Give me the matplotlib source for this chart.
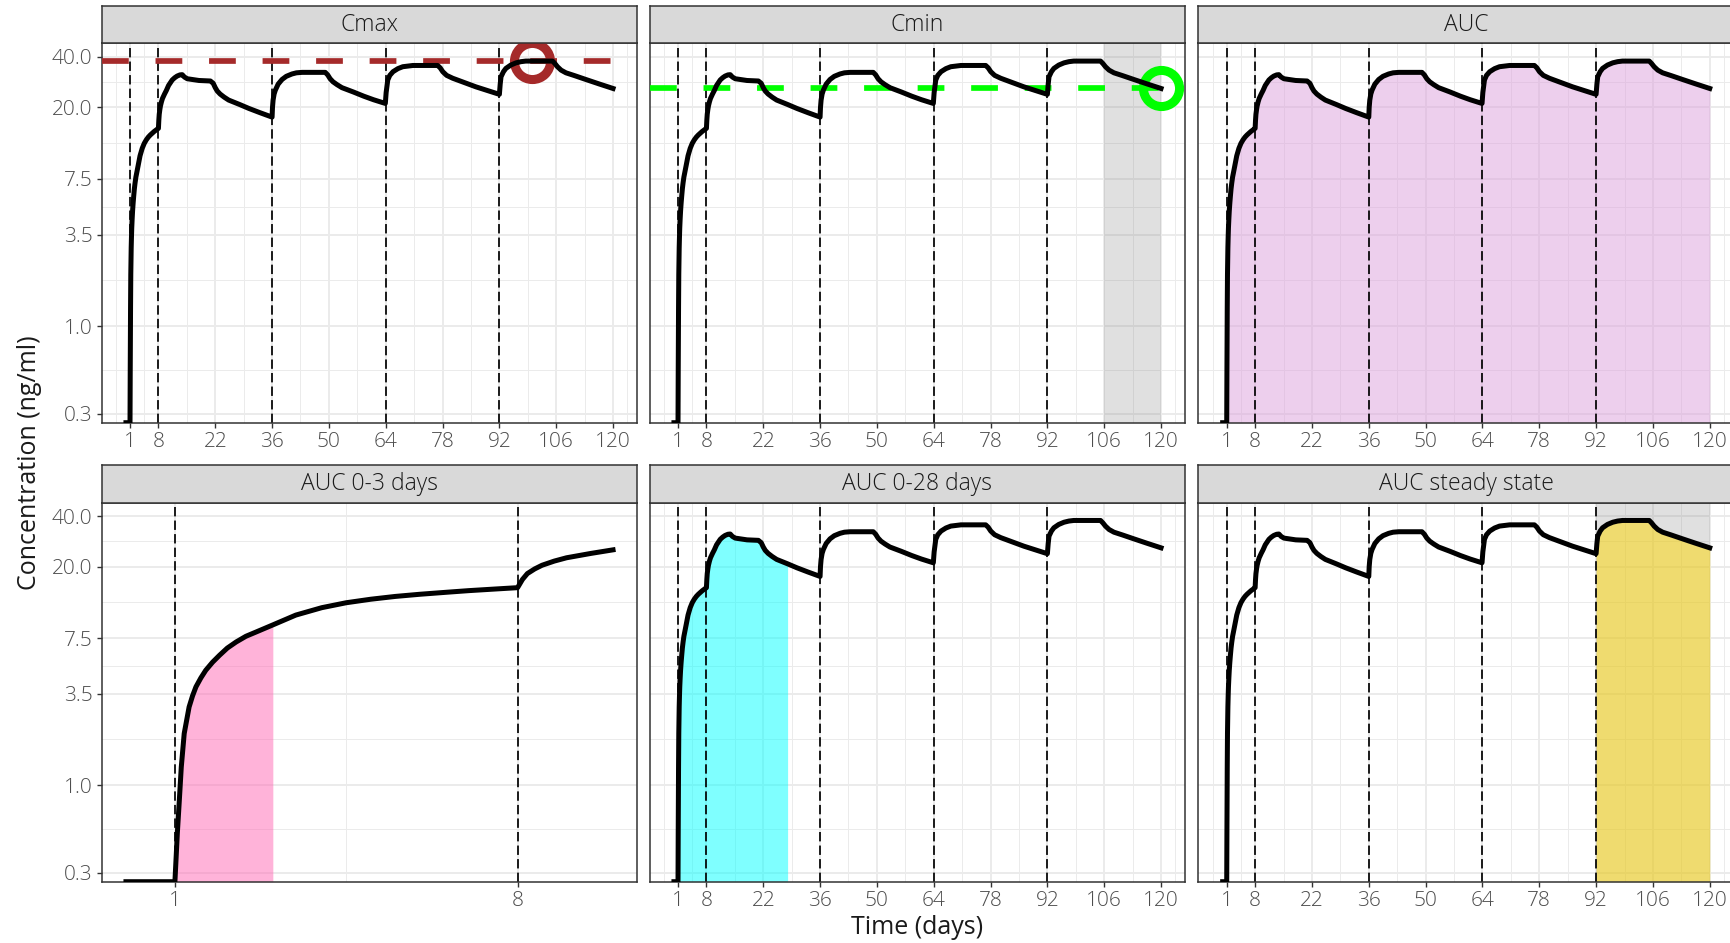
"""
Concentration-time profile faceted by PK metric: Cmax, Cmin and
several AUC windows, with dosing days marked as dashed lines.
"""
import matplotlib
matplotlib.use("Agg")
import matplotlib.pyplot as plt
import numpy as np
from matplotlib.ticker import FixedLocator, NullFormatter

plt.rcParams["font.family"] = ["Open Sans", "DejaVu Sans"]

# ── Data ──────────────────────────────────────────────────────────────────────
time_days = [0.0, 1.0, 1.05, 1.09, 1.13, 1.19, 1.29, 1.36, 1.43, 1.53, 1.63,
             1.77, 1.91, 2.07, 2.25, 2.45, 2.66, 3.0, 3.47, 4.0, 4.5, 5.0,
             5.5, 6.0, 6.57, 7.0, 7.5, 8.0, 8.1, 8.2, 8.35, 8.5, 8.75, 9.0,
             9.5, 9.95, 10.5, 11.4, 12.0, 12.6, 13.3, 13.86, 14.4, 15.1,
             18.0, 20.8, 21.5, 22.0, 22.5, 23.2, 24.2, 25.3, 28.0, 30.3,
             33.0, 36.0, 36.1, 36.25, 36.5, 36.8, 37.5, 38.45, 39.5, 40.9,
             42.0, 43.4, 49.1, 49.7, 50.3, 51.0, 52.0, 53.2, 56.0, 58.6,
             61.0, 63.9, 64.1, 64.5, 65.0, 65.8, 67.0, 68.2, 70.7, 76.8,
             77.4, 78.05, 79.0, 80.5, 86.2, 92.0, 92.2, 92.4, 93.0, 93.6,
             94.8, 96.1, 97.3, 98.5, 100.0, 105.1, 105.7, 106.3, 107.2,
             108.4, 110.5, 113.3, 116.5, 120.0]
conc_ngml = [0.0, 0.0, 0.52, 0.81, 1.28, 2.03, 2.92, 3.4, 3.85, 4.35, 4.83,
             5.4, 5.93, 6.55, 7.12, 7.7, 8.17, 9.0, 10.3, 11.4, 12.2, 12.8,
             13.3, 13.7, 14.1, 14.4, 14.7, 15.0, 16.8, 18.2, 19.4, 20.4, 21.6,
             22.6, 24.0, 25.2, 27.0, 29.1, 30.0, 30.7, 31.2, 31.3, 30.3, 29.6,
             28.9, 28.7, 27.8, 26.2, 25.0, 24.0, 23.0, 22.1, 20.8, 19.7,
             18.6, 17.5, 20.0, 22.1, 24.0, 25.3, 27.5, 29.3, 30.6, 31.6,
             32.1, 32.3, 32.3, 31.2, 29.6, 28.4, 27.3, 26.2, 24.7, 23.3,
             22.2, 21.1, 24.5, 29.1, 31.0, 32.6, 34.0, 34.9, 35.5, 35.5,
             34.4, 32.6, 31.0, 29.8, 26.5, 23.9, 27.5, 30.4, 32.6, 34.1,
             35.7, 36.8, 37.4, 37.7, 37.7, 37.7, 36.4, 34.9, 33.3,
             32.1, 30.9, 29.3, 27.6, 25.9]
dose_days = [1, 8, 36, 64, 92]

cmax_time, cmax_value = 100.0, 37.7
cmin_time, cmin_value = 120.0, 25.9

panels = ["Cmax", "Cmin", "AUC", "AUC 0-3 days", "AUC 0-28 days", "AUC steady state"]
auc_start = {"AUC": 0, "AUC 0-3 days": 0, "AUC 0-28 days": 0, "AUC steady state": 92}
auc_end = {"AUC": 120, "AUC 0-3 days": 3, "AUC 0-28 days": 28, "AUC steady state": 120}
auc_color = {"AUC": "#DDA0DD", "AUC 0-3 days": "#FF69B4",
             "AUC 0-28 days": "#00FFFF", "AUC steady state": "#FFD700"}
shade_start = {"Cmin": 106, "AUC steady state": 92}
shade_end = {"Cmin": 120, "AUC steady state": 120}

y_breaks = [0.3, 1.0, 3.5, 7.5, 20.0, 40.0]
y_labels = ["0.3", "1.0", "3.5", "7.5", "20.0", "40.0"]
x_breaks = [1, 8, 22, 36, 50, 64, 78, 92, 106, 120]
early_window = 10   # the 0-3 day facet only shows the first 10 days

t = np.array(time_days)
c = np.array(conc_ngml)

# ── Layout (pixels) ───────────────────────────────────────────────────────────
W, H = 1731, 943
Y_LIM = (0.266, 48.1)
col_left = [101.6, 649.6, 1198.3]
col_w = 535.8
rows = [(43.3, 422.7, 6.3), (502.7, 881.7, 465.3)]   # panel top, panel bottom, strip top

GRID = "#EBEBEB"
DARK = "#333333"


def minor_breaks(b, lo, hi):
    """Midpoints between breaks, extended one step each side (ggplot style)."""
    b = list(b)
    step = b[1] - b[0]
    b = [b[0] - step] + b + [b[-1] + step]
    mids = [(a + z) / 2 for a, z in zip(b[:-1], b[1:])]
    return [m for m in mids if lo < m < hi]


fig = plt.figure(figsize=(W / 100, H / 100), dpi=100)

for i, name in enumerate(panels):
    r, col = divmod(i, 3)
    top, bot, strip_top = rows[r]
    ax = fig.add_axes([col_left[col] / W, (H - bot) / H, col_w / W, (bot - top) / H])

    if name == "AUC 0-3 days":
        keep = t <= early_window
        xb = [b for b in x_breaks if b <= early_window]
    else:
        keep = np.ones_like(t, dtype=bool)
        xb = x_breaks
    tt, cc = t[keep], c[keep]
    pad = 0.05 * (tt.max() - tt.min())
    x_lim = (tt.min() - pad, tt.max() + pad)
    # zero concentrations sit on the lower panel edge on a log axis
    cc_plot = np.where(cc > 0, cc, Y_LIM[0])

    ax.set_yscale("log")
    ax.set_xlim(*x_lim)
    ax.set_ylim(*Y_LIM)

    ax.xaxis.set_major_locator(FixedLocator(xb))
    ax.xaxis.set_minor_locator(FixedLocator(minor_breaks(xb, *x_lim)))
    ax.set_xticklabels([str(b) for b in xb])
    log_b = np.log10(y_breaks)
    ax.yaxis.set_major_locator(FixedLocator(y_breaks))
    ax.yaxis.set_minor_locator(FixedLocator(
        10 ** np.array(minor_breaks(log_b, *np.log10(Y_LIM)))))
    ax.yaxis.set_minor_formatter(NullFormatter())
    ax.set_yticklabels(y_labels)

    ax.set_axisbelow(True)
    ax.grid(which="major", color=GRID, lw=1.4)
    ax.grid(which="minor", color=GRID, lw=0.7)
    ax.tick_params(which="major", length=3.6, width=1.0, color=DARK,
                   labelcolor="#4D4D4D", labelsize=15, pad=3)
    ax.tick_params(which="minor", length=0)
    for lab in ax.get_xticklabels() + ax.get_yticklabels():
        lab.set_fontweight("light")
    if col > 0:
        ax.tick_params(axis="y", which="both", left=False, labelleft=False)
    for s in ax.spines.values():
        s.set_color(DARK)
        s.set_linewidth(1.1)

    if name in shade_start:
        ax.axvspan(shade_start[name], shade_end[name], color="#7F7F7F",
                   alpha=0.24, lw=0, zorder=1)
    if name in auc_start:
        mask = (tt >= auc_start[name]) & (tt <= auc_end[name])
        ax.fill_between(tt, Y_LIM[0], cc_plot, where=mask,
                        color=auc_color[name], alpha=0.5, lw=0, zorder=1.5)

    for d in dose_days:
        ax.axvline(d, color="black", lw=1.25, ls=(0, (5.4, 2.4)), zorder=2)

    if name == "Cmax":
        ax.axhline(cmax_value, color="#A52A2A", lw=4.1, ls=(0, (4.7, 4.7)), zorder=3)
        ax.plot(cmax_time, cmax_value, "o", mfc="none", mec="#A52A2A",
                ms=26, mew=6.5, zorder=3)
    if name == "Cmin":
        ax.axhline(cmin_value, color="#00FF00", lw=4.1, ls=(0, (4.7, 4.7)), zorder=3)
        ax.plot(cmin_time, cmin_value, "o", mfc="none", mec="#00FF00",
                ms=26, mew=6.5, zorder=3)

    ax.plot(tt, cc_plot, color="black", lw=3.6, solid_joinstyle="round", zorder=4)

    # facet strip
    sax = fig.add_axes([col_left[col] / W, (H - top) / H, col_w / W, (top - strip_top) / H])
    sax.set_facecolor("#D9D9D9")
    sax.set_xticks([])
    sax.set_yticks([])
    for s in sax.spines.values():
        s.set_color(DARK)
        s.set_linewidth(1.1)
    sax.text(0.5, 0.5, name, ha="center", va="center", fontsize=16.5,
             fontweight="light", color="#1A1A1A", transform=sax.transAxes)

fig.text(917.5 / W, (H - 927) / H, "Time (days)", ha="center", va="center",
         fontsize=18, color="#1A1A1A")
fig.text(30 / W, (H - 463) / H, "Concentration (ng/ml)", ha="center", va="center",
         rotation=90, fontsize=18, color="#1A1A1A")

fig.savefig("out.png", dpi=100)
